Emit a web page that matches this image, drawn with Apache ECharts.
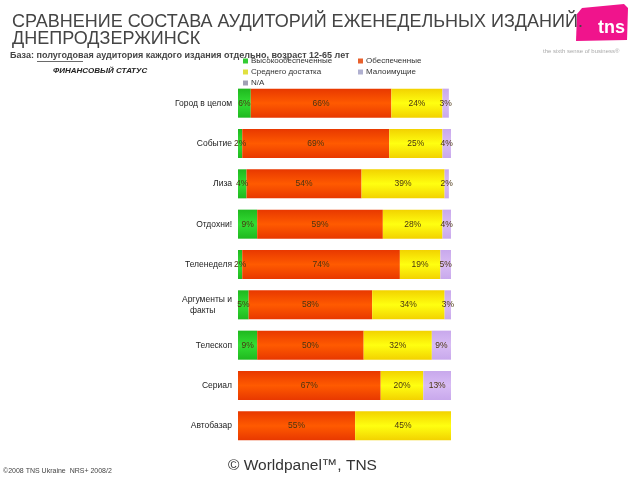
<!DOCTYPE html>
<html><head><meta charset="utf-8">
<script src="https://cdn.jsdelivr.net/npm/echarts@6/dist/echarts.min.js"></script>
<style>html,body{margin:0;padding:0;background:#fff}#c{width:640px;height:480px}</style>
</head><body><div id="c"></div>
<script>
var categories = ['Город в целом','Событие','Лиза','Отдохни!','Теленеделя','Аргументы и\nфакты\u00a0\u00a0\u00a0\u00a0\u00a0\u00a0\u00a0','Телескоп','Сериал','Автобазар'];
var seriesNames = ['Высокообеспеченные','Обеспеченные','Среднего достатка','Малоимущие','N/A'];
var high   = [6, 2, 4, 9, 2, 5, 9, 0, 0];
var wealthy= [66, 69, 54, 59, 74, 58, 50, 67, 55];
var middle = [24, 25, 39, 28, 19, 34, 32, 20, 45];
var poor   = [3, 4, 2, 4, 5, 3, 9, 13, 0];
var na     = [0, 0, 0, 0, 0, 0, 0, 0, 0];

function grad(a,b){return new echarts.graphic.LinearGradient(0,0,0,1,[{offset:0,color:a},{offset:0.5,color:b},{offset:1,color:a}]);}
var colors = [grad('#1FB81F','#33DD33'), grad('#E83800','#FF5A00'), grad('#F2D200','#FFFF10'), grad('#C8A8EC','#D8BCF4'), '#A0A0B4'];
var legendColors = ['#33CC33','#E8602C','#E0E040','#B0B0D0','#A0A0B4'];
var datas = [high, wealthy, middle, poor, na];

var chart = echarts.init(document.getElementById('c'));
var series = seriesNames.map(function(n,i){
  return {
    name:n, type:'bar', stack:'s', barWidth:'72%',
    data:datas[i],
    itemStyle:{color:colors[i]},
    label:{show:true, position:'inside', fontSize:8.5, fontFamily:'Liberation Sans, Arial, sans-serif', color:'#4a3512',
      formatter:function(p){return p.value>0 ? p.value+'%' : '';}},
    emphasis:{disabled:true}
  };
});
var legendItem = function(names, left){
  return {data:names.map(function(n){return {name:n, itemStyle:{color:legendColors[seriesNames.indexOf(n)]}};}),
    orient:'vertical', left:left, top:52, itemWidth:5, itemHeight:5, itemGap:3,
    icon:'rect', textStyle:{fontSize:8, color:'#333', fontFamily:'Liberation Sans, Arial, sans-serif', padding:[0,0,0,-2]}, selectedMode:false};
};
chart.setOption({
  animation:false,
  title:{text:'СРАВНЕНИЕ СОСТАВА АУДИТОРИЙ ЕЖЕНЕДЕЛЬНЫХ ИЗДАНИЙ.\nДНЕПРОДЗЕРЖИНСК', left:7, top:9,
    textStyle:{fontSize:18, fontWeight:'normal', color:'#444', lineHeight:17, fontFamily:'Liberation Sans, Arial, sans-serif'}},
  legend:[legendItem(['Высокообеспеченные','Среднего достатка','N/A'],238), legendItem(['Обеспеченные','Малоимущие'],353)],
  grid:{left:238, right:189, top:83, bottom:34, containLabel:false},
  xAxis:{type:'value', min:0, max:100, show:false},
  yAxis:{type:'category', data:categories, inverse:true,
    axisLine:{show:false}, axisTick:{show:false},
    axisLabel:{fontSize:8.5, color:'#222', margin:6, lineHeight:11, fontFamily:'Liberation Sans, Arial, sans-serif'}},
  series:series,
  graphic:[
    {type:'text', left:10, top:51, style:{text:'База: полугодовая аудитория каждого издания отдельно, возраст 12-65 лет', fontSize:9, fontWeight:'bold', fill:'#444', fontFamily:'Liberation Sans, Arial, sans-serif'}},
    {type:'line', shape:{x1:37, y1:61.5, x2:83, y2:61.5}, style:{stroke:'#444', lineWidth:0.8}},
    {type:'text', left:53, top:67, style:{text:'ФИНАНСОВЫЙ СТАТУС', fontSize:8, fontWeight:'bold', fontStyle:'italic', fill:'#222', fontFamily:'Liberation Sans, Arial, sans-serif'}},
    {type:'polygon', shape:{points:[[582,8],[624,4],[628,8],[627,40],[576,41],[577,14]]}, style:{fill:'#F0148C'}},
    {type:'text', left:598, top:19, style:{text:'tns', fontSize:18, fontWeight:'bold', fill:'#fff', fontFamily:'Liberation Sans, Arial, sans-serif'}},
    {type:'text', left:543, top:48, style:{text:'the sixth sense of business\u00ae', fontSize:6, fill:'#aaa', fontFamily:'Liberation Sans, Arial, sans-serif'}},
    {type:'text', left:3, top:468, style:{text:'©2008 TNS Ukraine  NRS+ 2008/2', fontSize:7, fill:'#444', fontFamily:'Liberation Sans, Arial, sans-serif'}},
    {type:'text', left:228, top:458, style:{text:'© Worldpanel™, TNS', fontSize:15.5, fill:'#333', fontFamily:'Liberation Sans, Arial, sans-serif'}}
  ]
});
</script></body></html>
